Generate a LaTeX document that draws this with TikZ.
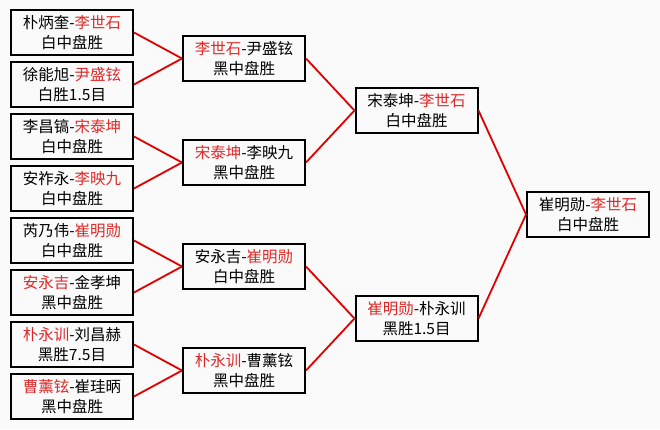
\documentclass[tikz,border=0pt]{standalone}
\usepackage{fontspec}
\newfontfamily\cjk{Noto Sans CJK SC}
\usepackage{tikz}
\definecolor{paper}{HTML}{FAFAFA}
\definecolor{winred}{HTML}{E02828}
\definecolor{wire}{HTML}{E00000}
\newcommand{\wn}[1]{\textcolor{winred}{#1}}
\tikzset{
  game/.style = {draw=black, fill=paper, line width=2pt, minimum width=122pt, minimum height=45pt,
                 inner sep=0pt, align=center, font=\fontsize{15.5}{20}\selectfont\cjk},
  link/.style = {draw=wire, line width=1.8pt},
}

\begin{document}
\begin{tikzpicture}[x=1pt,y=1pt]
\fill[paper] (0,0) rectangle (660,429);
\path[use as bounding box] (0,0) rectangle (660,429);

% ---- first round --------------------------------------------------------
\node[game] (ra) at (72,396.5) {朴炳奎-\wn{李世石}\\白中盘胜};
\node[game] (rb) at (72,344.5) {徐能旭-\wn{尹盛铉}\\白胜1.5目};
\node[game] (rc) at (72,292.5) {李昌镐-\wn{宋泰坤}\\白中盘胜};
\node[game] (rd) at (72,240.5) {安祚永-\wn{李映九}\\白中盘胜};
\node[game] (re) at (72,188.5) {芮乃伟-\wn{崔明勋}\\白中盘胜};
\node[game] (rf) at (72,136.5) {\wn{安永吉}-金孝坤\\黑中盘胜};
\node[game] (rg) at (72,84.5)  {\wn{朴永训}-刘昌赫\\黑胜7.5目};
\node[game] (rh) at (72,32.5)  {\wn{曹薰铉}-崔珪昞\\黑中盘胜};

% ---- second round -------------------------------------------------------
\node[game] (qa) at (244,370.5) {\wn{李世石}-尹盛铉\\黑中盘胜};
\node[game] (qb) at (244,266.5) {\wn{宋泰坤}-李映九\\黑中盘胜};
\node[game] (qc) at (244,162.5) {安永吉-\wn{崔明勋}\\白中盘胜};
\node[game] (qd) at (244,58.5)  {\wn{朴永训}-曹薰铉\\黑中盘胜};

% ---- semi-finals --------------------------------------------------------
\node[game] (sa) at (416.5,318.5) {宋泰坤-\wn{李世石}\\白中盘胜};
\node[game] (sb) at (416.5,110.5) {\wn{崔明勋}-朴永训\\黑胜1.5目};

% ---- final --------------------------------------------------------------
\node[game] (fin) at (588,214.5) {崔明勋-\wn{李世石}\\白中盘胜};

% ---- brackets -----------------------------------------------------------
\foreach \a/\b in {ra/qa, rb/qa, rc/qb, rd/qb, re/qc, rf/qc, rg/qd, rh/qd,
                   qa/sa, qb/sa, qc/sb, qd/sb, sa/fin, sb/fin}
  \draw[link] (\a.east) -- (\b.west);

\end{tikzpicture}
\end{document}
